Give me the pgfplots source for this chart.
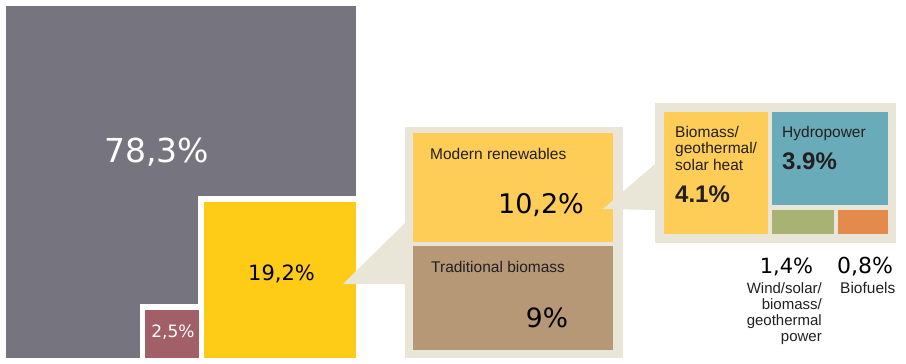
\documentclass[border=0pt]{standalone}
\usepackage{pgfplots}
\pgfplotsset{compat=1.18}
\usepackage{fontspec}
\setmainfont{Liberation Sans}
\newfontfamily\vfont{DejaVu Sans}
\definecolor{cgray}{HTML}{76747E}
\definecolor{cyel}{HTML}{FECB17}
\definecolor{cred}{HTML}{A35F68}
\definecolor{cbeige}{HTML}{E9E6D8}
\definecolor{cmod}{HTML}{FDCD58}
\definecolor{ctrad}{HTML}{B69877}
\definecolor{chydro}{HTML}{6AABB9}
\definecolor{cwind}{HTML}{A9B275}
\definecolor{cbiof}{HTML}{E38B4D}
\definecolor{ctxt}{HTML}{231F20}
\begin{document}
\begin{tikzpicture}
\begin{axis}[
  scale only axis, width=906pt, height=364pt,
  xmin=0, xmax=906, ymin=0, ymax=364, y dir=reverse,
  hide axis, clip=false, no markers,
  every axis plot/.append style={draw=none},
]
% frame that keeps the full canvas
\addplot[draw=none, fill=none] coordinates {(0,0) (906,0) (906,364) (0,364)};
% main: 78,3% fossil etc.
\addplot[fill=cgray] coordinates {(6,6) (356,6) (356,358) (6,358)};
\addplot[fill=white] coordinates {(198,196) (356,196) (356,358) (198,358)};
\addplot[fill=cyel] coordinates {(204,202) (356,202) (356,358) (204,358)};
\addplot[fill=white] coordinates {(140,304) (204,304) (204,358) (140,358)};
\addplot[fill=cred] coordinates {(145,310) (199,310) (199,358) (145,358)};
% wedge 1 and panel 1
\addplot[fill=cbeige] coordinates {(343,284) (406,222) (406,284)};
\addplot[fill=cbeige] coordinates {(405,127) (623,127) (623,358) (405,358)};
\addplot[fill=cmod] coordinates {(413,133) (613,133) (613,242) (413,242)};
\addplot[fill=ctrad] coordinates {(413,246) (613,246) (613,350) (413,350)};
% wedge 2 and panel 2
\addplot[fill=cbeige] coordinates {(603,209) (656,163) (656,210)};
\addplot[fill=cbeige] coordinates {(655,103) (896,103) (896,243) (655,243)};
\addplot[fill=cmod] coordinates {(664,112) (768,112) (768,234) (664,234)};
\addplot[fill=chydro] coordinates {(772,112) (888,112) (888,205) (772,205)};
\addplot[fill=cwind] coordinates {(772,210) (834,210) (834,234) (772,234)};
\addplot[fill=cbiof] coordinates {(838,210) (888,210) (888,234) (838,234)};
% percentages
\node[anchor=base, inner sep=0, text=white, font=\vfont\fontsize{33}{40}\selectfont] at (axis cs:156.5,162) {78,3\%};
\node[anchor=base, inner sep=0, text=black, font=\vfont\fontsize{21}{25}\selectfont] at (axis cs:281.5,280) {19,2\%};
\node[anchor=base, inner sep=0, text=white, font=\vfont\fontsize{17}{20}\selectfont] at (axis cs:173,337) {2,5\%};
\node[anchor=base, inner sep=0, text=black, font=\vfont\fontsize{27}{32}\selectfont] at (axis cs:541,213) {10,2\%};
\node[anchor=base, inner sep=0, text=black, font=\vfont\fontsize{26.5}{32}\selectfont] at (axis cs:547,327) {9\%};
\node[anchor=base, inner sep=0, text=black, font=\vfont\fontsize{21}{25}\selectfont] at (axis cs:786.5,273) {1,4\%};
\node[anchor=base, inner sep=0, text=black, font=\vfont\fontsize{22}{26}\selectfont] at (axis cs:865,273) {0,8\%};
% labels panel 1
\node[anchor=base west, inner sep=0, text=ctxt, font=\fontsize{15.5}{18}\selectfont] at (axis cs:430,159) {Modern renewables};
\node[anchor=base west, inner sep=0, text=ctxt, font=\fontsize{15.5}{18}\selectfont] at (axis cs:431,272) {Traditional biomass};
% labels panel 2
\node[anchor=base west, inner sep=0, text=ctxt, font=\fontsize{15.5}{18}\selectfont] at (axis cs:675,137) {Biomass/};
\node[anchor=base west, inner sep=0, text=ctxt, font=\fontsize{15.5}{18}\selectfont] at (axis cs:675,153.5) {geothermal/};
\node[anchor=base west, inner sep=0, text=ctxt, font=\fontsize{15.5}{18}\selectfont] at (axis cs:675,170) {solar heat};
\node[anchor=base west, inner sep=0, text=ctxt, font=\bfseries\fontsize{24}{28}\selectfont] at (axis cs:675,202) {4.1\%};
\node[anchor=base west, inner sep=0, text=ctxt, font=\fontsize{15.5}{18}\selectfont] at (axis cs:782,137) {Hydropower};
\node[anchor=base west, inner sep=0, text=ctxt, font=\bfseries\fontsize{24}{28}\selectfont] at (axis cs:782,169) {3.9\%};
% labels below
\node[anchor=base east, inner sep=0, text=ctxt, font=\fontsize{15}{18}\selectfont] at (axis cs:822,293) {Wind/solar/};
\node[anchor=base east, inner sep=0, text=ctxt, font=\fontsize{15}{18}\selectfont] at (axis cs:822,309) {biomass/};
\node[anchor=base east, inner sep=0, text=ctxt, font=\fontsize{15}{18}\selectfont] at (axis cs:822,325) {geothermal};
\node[anchor=base east, inner sep=0, text=ctxt, font=\fontsize{15}{18}\selectfont] at (axis cs:822,341) {power};
\node[anchor=base west, inner sep=0, text=ctxt, font=\fontsize{15.5}{18}\selectfont] at (axis cs:840,293) {Biofuels};
\end{axis}
\end{tikzpicture}
\end{document}
